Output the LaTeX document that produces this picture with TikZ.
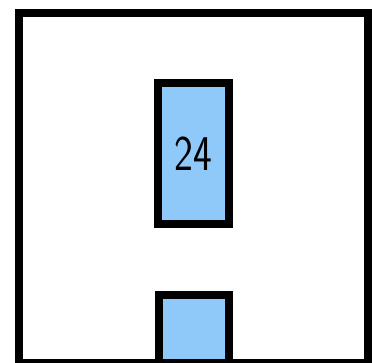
\documentclass[tikz,border=0pt]{standalone}
\usepackage{tikz}
\usetikzlibrary{positioning}
\definecolor{boxblue}{RGB}{142,201,250}

\begin{document}
\begin{tikzpicture}[
    x=1pt, y=1pt,
    frame/.style={rectangle, draw, line width=8pt, minimum width=349.5pt, minimum height=350pt, inner sep=0pt},
    bluebox/.style={rectangle, draw, fill=boxblue, line width=7.5pt, inner sep=0pt, font=\sffamily\fontsize{50}{50}\selectfont}
]
\useasboundingbox (0,0) rectangle (372,362);

% Outer square
\node[frame] (room) at (193.25,174) {};

% Boxes
\node[bluebox, minimum width=71pt, minimum height=141pt] (tall) at (193.5,208.5) {\raisebox{-4pt}{\scalebox{0.8}[1]{24}}};
\node[bluebox, minimum width=70pt, minimum height=68pt] (stub) at (194,33) {};

\end{tikzpicture}
\end{document}
